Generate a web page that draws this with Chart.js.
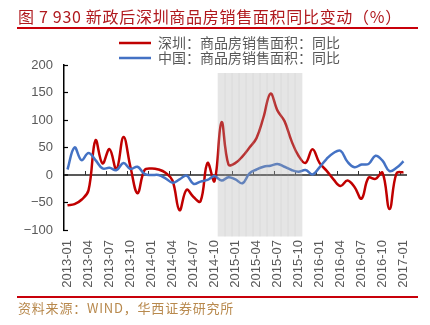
<!DOCTYPE html>
<html>
<head>
<meta charset="utf-8">
<script src="https://cdn.jsdelivr.net/npm/chart.js@4.4.1/dist/chart.umd.min.js"></script>
<style>
	body { margin: 0; background: #fff; }
	#marco { position: relative; width: 430px; height: 325px; overflow: hidden; }
	#grafica { position: absolute; left: 0; top: 0; }
	.titulo { position: absolute; left: 18px; top: 5px; font: 16px "Noto Sans CJK SC"; line-height: 22px; letter-spacing: 0.7px; color: #b0191e; white-space: nowrap; }
	.regla { position: absolute; left: 17px; width: 401px; height: 2px; background: #c8000a; }
	.fuente { position: absolute; left: 18px; top: 299px; font: 13px "Noto Sans CJK SC"; line-height: 18px; letter-spacing: 0.8px; color: #b8894d; white-space: nowrap; }
</style>
</head>
<body>
<div id="marco">
	<canvas id="grafica" width="430" height="325"></canvas>
	<div class="titulo">图 7 930 新政后深圳商品房销售面积同比变动（%）</div>
	<div class="regla" style="top:27px"></div>
	<div class="regla" style="top:296px"></div>
	<div class="fuente">资料来源：WIND，华西证券研究所</div>
</div>
<script>
// meses 2013-01 .. 2017-01
const meses = [
	'2013-01', '2013-02', '2013-03', '2013-04', '2013-05', '2013-06', '2013-07', '2013-08', '2013-09', '2013-10', '2013-11', '2013-12',
	'2014-01', '2014-02', '2014-03', '2014-04', '2014-05', '2014-06', '2014-07', '2014-08', '2014-09', '2014-10', '2014-11', '2014-12',
	'2015-01', '2015-02', '2015-03', '2015-04', '2015-05', '2015-06', '2015-07', '2015-08', '2015-09', '2015-10', '2015-11', '2015-12',
	'2016-01', '2016-02', '2016-03', '2016-04', '2016-05', '2016-06', '2016-07', '2016-08', '2016-09', '2016-10', '2016-11', '2016-12',
	'2017-01'
];

const nombreShenzhen = '深圳：商品房销售面积：同比';
const nombreChina = '中国：商品房销售面积：同比';

// 同比 (%)
const shenzhen = [
	-55, -53, -45, -28, 63, 21, 47, 10, 69, 14, -33, 9,
	12, 10, 4, -10, -64, -27, -40, -48, 22, -11, 96, 19,
	22, 34, 50, 67, 105, 148, 117, 98, 62, 35, 22, 47,
	22, 8, -8, -20, -10, -22, -43, -5, -7, 4, -62, 3,
	5
];
const china = [
	10, 50, 27, 40, 27, 12, 13, 9, 22, 11, 15, 2,
	0, 0, -6, -14, -8, -1, -16, -12, -9, -2, -10, -4,
	-8, -15, 3, 10, 15, 17, 20, 15, 9, 6, 9, 1,
	14, 29, 40, 44, 24, 14, 19, 20, 35, 26, 7, 13,
	25
];

// periodo sombreado tras el 930
const sombraDesde = '2014-11';
const sombraHasta = '2015-10';
const sombraRango = [-111, 185];

const yMin = -100, yMax = 200, yPaso = 50;

// marcas cortas sobre la linea de cero, cada trimestre
const marcasCero = {
	id: 'marcasCero',
	beforeDatasetsDraw(chart) {
		const { ctx, scales: { x, y } } = chart;
		const y0 = y.getPixelForValue(0);
		ctx.save();
		ctx.strokeStyle = '#333';
		ctx.lineWidth = 1;
		for (let i = 3; i < meses.length; i += 3) {
			const px = Math.round((x.getPixelForValue(i - 1) + x.getPixelForValue(i)) / 2) + 0.5;
			ctx.beginPath();
			ctx.moveTo(px, y0);
			ctx.lineTo(px, y0 - 4);
			ctx.stroke();
		}
		ctx.restore();
	}
};

// la leyenda va dentro del area, algo a la derecha
const moverLeyenda = {
	id: 'moverLeyenda',
	afterLayout(chart) {
		const l = chart.legend;
		l.top += 10;
		l.bottom += 10;
		l.left += 26;
		l.right += 26;
	}
};

function generarGrafica() {
	const i0 = meses.indexOf(sombraDesde);
	const i1 = meses.indexOf(sombraHasta);
	const sombra = meses.map((m, i) => (i >= i0 && i <= i1) ? sombraRango : null);

	Chart.defaults.font.family = '"Liberation Sans", Arial, sans-serif';
	Chart.defaults.color = '#595959';

	const ctx = document.getElementById('grafica').getContext('2d');
	new Chart(ctx, {
		data: {
			labels: meses,
			datasets: [{
				type: 'line',
				label: nombreShenzhen,
				data: shenzhen,
				borderColor: '#c00000',
				backgroundColor: '#c00000',
				borderWidth: 2.5,
				pointRadius: 0,
				tension: 0.4,
				order: 2
			}, {
				type: 'line',
				label: nombreChina,
				data: china,
				borderColor: '#4472c4',
				backgroundColor: '#4472c4',
				borderWidth: 2.5,
				pointRadius: 0,
				tension: 0.4,
				order: 1
			}, {
				type: 'bar',
				label: '',
				data: sombra,
				backgroundColor: 'rgba(170, 170, 170, 0.3)',
				borderWidth: 0,
				barPercentage: 1,
				categoryPercentage: 1,
				clip: false,
				order: 0
			}]
		},
		options: {
			responsive: false,
			animation: false,
			devicePixelRatio: 1,
			layout: { padding: { left: 0, right: 23, top: 25, bottom: 0 } },
			plugins: {
				tooltip: { enabled: false },
				legend: {
					position: 'top',
					labels: {
						filter: item => item.datasetIndex < 2,
						sort: (a, b) => a.datasetIndex - b.datasetIndex,
						usePointStyle: true,
						pointStyle: 'line',
						pointStyleWidth: 32,
						padding: 1,
						color: '#595959',
						font: { family: '"Noto Sans CJK SC"', size: 14 }
					}
				}
			},
			scales: {
				x: {
					offset: true,
					grid: { display: false, drawTicks: false },
					border: { display: false },
					ticks: {
						autoSkip: false,
						minRotation: 90,
						maxRotation: 90,
						padding: 10,
						color: '#595959',
						font: { size: 13 },
						callback: (v, i) => i % 3 === 0 ? meses[i] : ''
					},
					afterFit: s => { s.height = 95; }
				},
				y: {
					min: yMin,
					max: yMax,
					ticks: {
						stepSize: yPaso,
						padding: 15,
						color: '#595959',
						font: { size: 13 },
						callback: v => v < 0 ? '\u2212' + (-v) : v
					},
					grid: {
						color: c => c.tick && c.tick.value === 0 ? '#595959' : 'transparent',
						lineWidth: c => c.tick && c.tick.value === 0 ? 2 : 1,
						drawTicks: true,
						tickLength: -4,
						tickColor: '#000',
						tickWidth: 1.2
					},
					border: { display: true, color: '#000', width: 1.5 },
					afterFit: s => { s.width = 64; }
				}
			}
		},
		plugins: [marcasCero, moverLeyenda]
	});
}

generarGrafica();
</script>
</body>
</html>
